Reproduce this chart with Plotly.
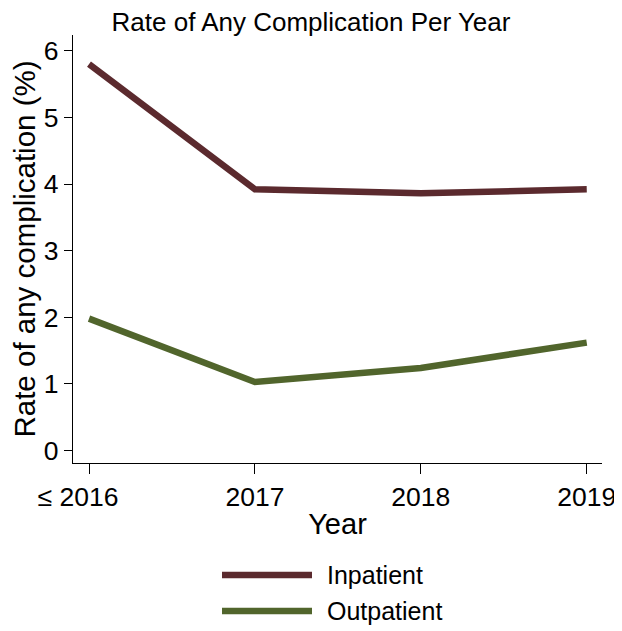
import plotly.graph_objects as go

categories = ["≤ 2016\u00a0\u00a0\u00a0", "2017", "2018", "2019"]
inpatient = [5.80, 3.92, 3.86, 3.92]
outpatient = [1.98, 1.03, 1.24, 1.62]
series_names = ["Inpatient", "Outpatient"]
colors = ["#5b2a2e", "#51652c"]

# page has an 8px body margin; size the figure to fill the rest of the window
OFF = 8
W, H = 622 - OFF, 631 - OFF
# plot area in page pixels: x 73..602, y 35..463
L, R, T, B = 73 - OFF, 622 - 602, 35 - OFF, 631 - 463
pw, ph = W - L - R, H - T - B

xpos = list(range(len(categories)))
FONT = "Liberation Sans, Arial, Helvetica, sans-serif"
FS = 26

fig = go.Figure()
for name, vals, c in zip(series_names, [inpatient, outpatient], colors):
    fig.add_trace(go.Scatter(x=xpos, y=vals, mode="lines", name=name,
                             line=dict(color=c, width=6.5), showlegend=False))

# positions given in page pixels
def px_to_paper_x(px):
    return (px - OFF - L) / pw

def px_to_paper_y(py):
    return (H - B - (py - OFF)) / ph

# custom legend (long line swatches)
for i, (name, c) in enumerate(zip(series_names, colors)):
    yy = px_to_paper_y(575 + 36 * i)
    fig.add_shape(type="line", xref="paper", yref="paper",
                  x0=px_to_paper_x(222), x1=px_to_paper_x(312), y0=yy, y1=yy,
                  line=dict(color=c, width=6.5))
    fig.add_annotation(xref="paper", yref="paper", x=px_to_paper_x(325), y=yy,
                       text=name, showarrow=False, xanchor="left", yanchor="middle",
                       font=dict(size=25, color="black", family=FONT))

fig.update_layout(
    width=W, height=H,
    margin=dict(l=L, r=R, t=T, b=B),
    plot_bgcolor="white", paper_bgcolor="white",
    font=dict(family=FONT, color="black"),
    title=dict(text="Rate of Any Complication Per Year", x=(311 - OFF) / W, xanchor="center",
               y=1 - (21.5 - OFF) / H, yanchor="middle", font=dict(size=FS, color="black")),
    xaxis=dict(range=[-0.0965, 3.092], tickvals=xpos, ticktext=categories,
               automargin=False,
               showgrid=False, zeroline=False, showline=True, linecolor="black", linewidth=1.2,
               ticks="outside", ticklen=10, tickwidth=1.2, tickcolor="black",
               tickfont=dict(size=26.5),
               title=dict(text="Year", font=dict(size=29), standoff=2)),
    yaxis=dict(range=[-0.186, 6.236], tickvals=[0, 1, 2, 3, 4, 5, 6],
               automargin=False,
               showgrid=False, zeroline=False, showline=True, linecolor="black", linewidth=1.2,
               ticks="outside", ticklen=8, tickwidth=1.2, tickcolor="black",
               tickfont=dict(size=26.5),
               title=dict(text="Rate of any complication (%)", font=dict(size=29.5), standoff=16)),
)

fig.write_html("out.html")
